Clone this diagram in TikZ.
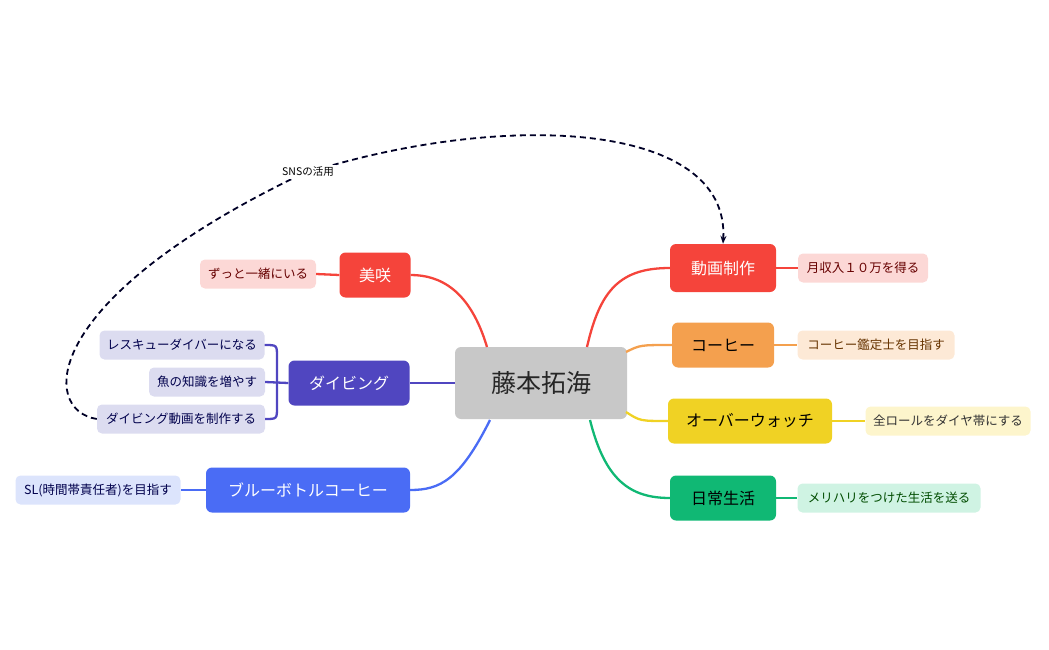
\documentclass[tikz,border=0pt]{standalone}
\usepackage{fontspec}
\setmainfont{Noto Sans CJK JP}
\usetikzlibrary{arrows.meta}
\definecolor{cred}{HTML}{F5443B}
\definecolor{corange}{HTML}{F4A04E}
\definecolor{cyellow}{HTML}{F0D224}
\definecolor{cgreen}{HTML}{10B874}
\definecolor{cpurple}{HTML}{5046C0}
\definecolor{cblue}{HTML}{4A6CF5}
\definecolor{cgray}{HTML}{C8C8C8}
\definecolor{lred}{HTML}{FCD8D6}
\definecolor{lorange}{HTML}{FDE9D6}
\definecolor{lyellow}{HTML}{FDF5CC}
\definecolor{lgreen}{HTML}{CFF3E3}
\definecolor{lpurple}{HTML}{DCDCF0}
\definecolor{lblue}{HTML}{DCE4FC}
\begin{document}
\begin{tikzpicture}[x=1pt,y=-1pt,
 mainbox/.style={rounded corners=6pt,minimum height=45pt,inner xsep=10pt,font=\fontsize{16}{16}\selectfont},
 leaf/.style={rounded corners=5pt,minimum height=29pt,inner xsep=6pt,font=\fontsize{12.5}{13}\selectfont},
 br/.style={line width=2.3pt}]
\useasboundingbox (0,0) rectangle (1049,650);
\node[mainbox,fill=cgray,minimum width=172pt,minimum height=72pt,font=\fontsize{25}{25}\selectfont,text=black!85] (c) at (541,383) {藤本拓海};
\node[mainbox,fill=cred,text=white,minimum width=106pt,minimum height=48pt] (a1) at (723,268) {動画制作};
\node[mainbox,fill=corange,text=black,minimum width=102pt] (a2) at (723,345) {コーヒー};
\node[mainbox,fill=cyellow,text=black,minimum width=164pt] (a3) at (750,421) {オーバーウォッチ};
\node[mainbox,fill=cgreen,text=black,minimum width=106pt] (a4) at (723,498) {日常生活};
\node[mainbox,fill=cred,text=white,minimum width=71pt] (b1) at (375,275) {美咲};
\node[mainbox,fill=cpurple,text=white,minimum width=121pt] (b2) at (349,383) {ダイビング};
\node[mainbox,fill=cblue,text=white,minimum width=204pt] (b3) at (308,490) {ブルーボトルコーヒー};
\node[leaf,fill=lred,text=red!40!black,minimum width=130pt] (l1) at (863,268) {月収入１０万を得る};
\node[leaf,fill=lorange,text=orange!40!black,minimum width=157pt] (l2) at (876,345) {コーヒー鑑定士を目指す};
\node[leaf,fill=lyellow,text=black!80,minimum width=165pt] (l3) at (948,421) {全ロールをダイヤ帯にする};
\node[leaf,fill=lgreen,text=green!30!black,minimum width=183pt] (l4) at (889,498) {メリハリをつけた生活を送る};
\node[leaf,fill=lred,text=red!40!black,minimum width=116pt] (r1) at (258,274) {ずっと一緒にいる};
\node[leaf,fill=lpurple,text=blue!30!black,minimum width=165pt] (r2) at (182,345) {レスキューダイバーになる};
\node[leaf,fill=lpurple,text=blue!30!black,minimum width=116pt] (r3) at (207,382) {魚の知識を増やす};
\node[leaf,fill=lpurple,text=blue!30!black,minimum width=168pt] (r4) at (181,419) {ダイビング動画を制作する};
\node[leaf,fill=lblue,text=blue!30!black,minimum width=165pt] (r5) at (98,490) {SL(時間帯責任者)を目指す};
% branches
\draw[br,cred] (587,347) .. controls (600,290) and (620,268) .. (a1.west);
\draw[br,corange] (626,352) .. controls (640,345) .. (a2.west);
\draw[br,cyellow] (626,412) .. controls (640,421) .. (a3.west);
\draw[br,cgreen] (590,420) .. controls (605,480) and (630,498) .. (a4.west);
\draw[br,cred] (487,347) .. controls (470,290) and (440,275) .. (b1.east);
\draw[br,cpurple] (c.west) -- (b2.east);
\draw[br,cblue] (490,420) .. controls (460,480) and (440,490) .. (b3.east);
\draw[br,cred] (a1.east) -- (l1.west);
\draw[br,corange] (a2.east) -- (l2.west);
\draw[br,cyellow] (a3.east) -- (l3.west);
\draw[br,cgreen] (a4.east) -- (l4.west);
\draw[br,cred] (b1.west) -- (r1.east);
\draw[br,cblue] (b3.west) -- (r5.east);
\draw[br,cpurple] (r2.east) .. controls (277,345) .. (277,357) -- (277,407) .. controls (277,419) .. (r4.east);
\draw[br,cpurple] (r3.east) -- (b2.west);
% dashed relation
\draw[line width=1.8pt,dash pattern=on 6pt off 4pt,black!85!blue,-{Stealth[length=8pt]}] (r4.west) .. controls (40,410) and (40,300) .. (300,175) .. controls (500,110) and (730,120) .. (a1.north);
\node[fill=white,inner sep=2pt,font=\fontsize{10.5}{11}\selectfont] (sns) at (308,172) {SNSの活用};
\end{tikzpicture}
\end{document}
